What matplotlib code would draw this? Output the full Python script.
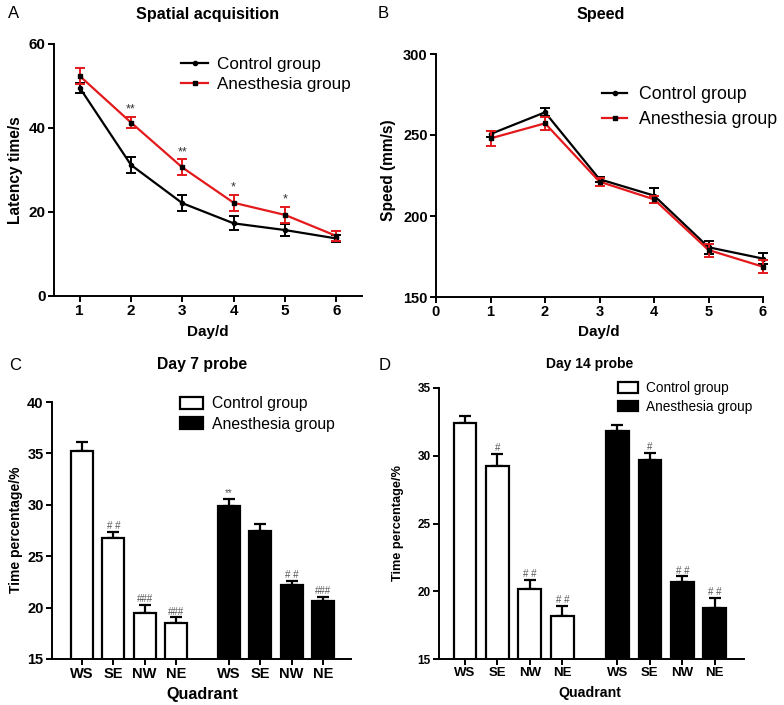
import matplotlib
matplotlib.use('Agg')
import matplotlib.pyplot as plt
from matplotlib.lines import Line2D
from matplotlib.patches import Patch
import numpy as np

plt.rcParams['font.family'] = ['Liberation Sans', 'DejaVu Sans']

# Panel A - spatial acquisition (latency, s)
days = [1, 2, 3, 4, 5, 6]
lat_ctrl = [49.6, 31.2, 22.1, 17.3, 15.7, 13.7]
lat_ctrl_err = [1.2, 1.9, 1.9, 1.7, 1.4, 0.9]
lat_anes = [52.4, 41.3, 30.6, 22.2, 19.3, 14.3]
lat_anes_err = [2.0, 1.4, 1.9, 1.9, 2.0, 1.2]
lat_marks = ['', '**', '**', '*', '*', '']

# Panel B - speed (mm/s)
spd_ctrl = [250.6, 264.0, 222.7, 212.6, 180.7, 173.7]
spd_ctrl_err = [2.0, 2.5, 1.5, 4.5, 4.0, 3.5]
spd_anes = [247.9, 257.2, 221.2, 210.3, 179.0, 168.7]
spd_anes_err = [4.5, 4.0, 2.5, 2.0, 4.0, 4.0]

# Panels C / D - probe tests (time percentage)
quadrants = ['WS', 'SE', 'NW', 'NE']
d7_ctrl = [35.2, 26.8, 19.5, 18.5]
d7_ctrl_err = [0.9, 0.55, 0.8, 0.55]
d7_anes = [29.85, 27.5, 22.15, 20.65]
d7_anes_err = [0.75, 0.6, 0.45, 0.4]
d7_ctrl_marks = ['', '# #', '###', '###']
d7_anes_marks = ['**', '', '# #', '###']

d14_ctrl = [32.4, 29.27, 20.17, 18.2]
d14_ctrl_err = [0.55, 0.86, 0.65, 0.7]
d14_anes = [31.8, 29.7, 20.66, 18.76]
d14_anes_err = [0.5, 0.5, 0.45, 0.75]
d14_ctrl_marks = ['', '#', '# #', '# #']
d14_anes_marks = ['', '#', '# #', '# #']

W, H = 784, 705
fig = plt.figure(figsize=(W / 100, H / 100), dpi=100)


def rect(l, t, r, b):
    return [l / W, 1 - b / H, (r - l) / W, (b - t) / H]


def style(ax, fs, bold=True):
    for s in ['top', 'right']:
        ax.spines[s].set_visible(False)
    for s in ['left', 'bottom']:
        ax.spines[s].set_linewidth(1.4)
    ax.tick_params(width=1.4, length=4, labelsize=fs, pad=2)
    if bold:
        for lab in ax.get_xticklabels() + ax.get_yticklabels():
            lab.set_fontweight('bold')


# ---- A ----
axA = fig.add_axes(rect(54, 44, 362, 296))
axA.errorbar(days, lat_ctrl, yerr=lat_ctrl_err, color='black', lw=1.6, marker='o', ms=3,
             capsize=3.5, capthick=1.4, elinewidth=1.4, zorder=3, clip_on=False)
axA.errorbar(days, lat_anes, yerr=lat_anes_err, color='#e3191c', ecolor='#e3191c', lw=1.6,
             marker='s', ms=3.5, mfc='black', mec='black', capsize=3.5, capthick=1.4,
             elinewidth=1.4, zorder=4, clip_on=False)
for d, v, e, m in zip(days, lat_anes, lat_anes_err, lat_marks):
    if m:
        axA.annotate(m, (d, v + e), xytext=(0, 1), textcoords='offset points',
                     ha='center', va='bottom', fontsize=9, color='#333333')
axA.set_xlim(0.5, 6.5)
axA.set_ylim(0, 60)
axA.set_xticks(days)
axA.set_yticks([0, 20, 40, 60])
style(axA, 11)
hA = [Line2D([], [], color='black', lw=1.6, marker='o', ms=3),
      Line2D([], [], color='#e3191c', lw=1.6, marker='s', ms=3.5, mfc='black', mec='black')]
axA.legend(hA, ['Control group', 'Anesthesia group'], loc='upper left',
           bbox_to_anchor=(0.412, 0.95), frameon=False, fontsize=12.3, borderpad=0,
           borderaxespad=0, handlelength=1.6, handletextpad=0.5, labelspacing=0.3)

# ---- B ----
axB = fig.add_axes(rect(436, 54, 763, 297))
axB.errorbar(days, spd_ctrl, yerr=spd_ctrl_err, color='black', lw=1.6, marker='o', ms=3,
             capsize=3.5, capthick=1.4, elinewidth=1.4, zorder=3, clip_on=False)
axB.errorbar(days, spd_anes, yerr=spd_anes_err, color='#e3191c', ecolor='#e3191c', lw=1.6,
             marker='s', ms=3.5, mfc='black', mec='black', capsize=3.5, capthick=1.4,
             elinewidth=1.4, zorder=4, clip_on=False)
axB.set_xlim(0, 6)
axB.set_ylim(150, 300)
axB.set_xticks(range(0, 7))
axB.set_yticks([150, 200, 250, 300])
style(axB, 10.5)
axB.legend(hA, ['Control group', 'Anesthesia group'], loc='upper left',
           bbox_to_anchor=(0.508, 0.868), frameon=False, fontsize=12.8, borderpad=0,
           borderaxespad=0, handlelength=1.4, handletextpad=0.7, labelspacing=0.45)


# ---- C / D bars ----
def probe(ax, ctrl, ctrl_err, anes, anes_err, cmarks, amarks, fs_tick, fs_leg, ylim, xlim,
          leg_anchor, cap):
    xc = np.arange(4)
    xa = xc + 4.7
    ax.bar(xc, ctrl, width=0.7, color='white', edgecolor='black', lw=1.6, zorder=2)
    ax.bar(xa, anes, width=0.7, color='black', edgecolor='black', lw=1.6, zorder=2)
    ax.errorbar(xc, ctrl, yerr=[np.zeros(4), ctrl_err], fmt='none', ecolor='black',
                elinewidth=1.6, capsize=cap, capthick=1.6, zorder=1)
    ax.errorbar(xa, anes, yerr=[np.zeros(4), anes_err], fmt='none', ecolor='black',
                elinewidth=1.6, capsize=cap, capthick=1.6, zorder=1)
    for xs, vals, errs, marks in [(xc, ctrl, ctrl_err, cmarks), (xa, anes, anes_err, amarks)]:
        for x, v, e, m in zip(xs, vals, errs, marks):
            if m:
                ax.annotate(m, (x, v + e), xytext=(0, 0.5), textcoords='offset points',
                            ha='center', va='bottom', fontsize=7, color='#555555')
    ax.set_xticks(list(xc) + list(xa))
    ax.set_xticklabels(quadrants * 2)
    ax.set_xlim(*xlim)
    ax.set_ylim(*ylim)
    ax.set_yticks(np.arange(ylim[0], ylim[1] + 1, 5))
    style(ax, fs_tick)
    hs = [Patch(facecolor='white', edgecolor='black', lw=1.6),
          Patch(facecolor='black', edgecolor='black', lw=1.6)]
    ax.legend(hs, ['Control group', 'Anesthesia group'], loc='upper left',
              bbox_to_anchor=leg_anchor, frameon=False, fontsize=fs_leg, borderpad=0,
              borderaxespad=0, handlelength=1.45, handleheight=0.8, handletextpad=0.6,
              labelspacing=0.35)


axC = fig.add_axes(rect(52, 402, 351, 659))
probe(axC, d7_ctrl, d7_ctrl_err, d7_anes, d7_anes_err, d7_ctrl_marks, d7_anes_marks,
      10.5, 11.3, (15, 40), (-0.96, 8.6), (0.428, 1.022), 4.5)

axD = fig.add_axes(rect(439, 388, 744, 659))
probe(axD, d14_ctrl, d14_ctrl_err, d14_anes, d14_anes_err, d14_ctrl_marks, d14_anes_marks,
      9.5, 9.8, (15, 35), (-0.8, 8.6), (0.587, 1.025), 4.5)
for lab in axD.get_yticklabels():
    lab.set_fontsize(8.5)

# ---- titles, labels, panel letters ----
def ftext(x, y, s, **kw):
    fig.text(x / W, 1 - y / H, s, ha='center', va='center', **kw)


ftext(208, 15, 'Spatial acquisition', fontsize=11.6, fontweight='bold')
ftext(601, 15, 'Speed', fontsize=11.6, fontweight='bold')
ftext(202, 365, 'Day 7 probe', fontsize=11.3, fontweight='bold')
ftext(590, 364, 'Day 14 probe', fontsize=10, fontweight='bold')

ftext(208, 332, 'Day/d', fontsize=11, fontweight='bold')
ftext(599, 332, 'Day/d', fontsize=11, fontweight='bold')
ftext(202, 695, 'Quadrant', fontsize=11.6, fontweight='bold')
ftext(590, 693, 'Quadrant', fontsize=10.2, fontweight='bold')

ftext(16, 170, 'Latency time/s', fontsize=11.2, fontweight='bold', rotation=90)
ftext(389, 170, 'Speed (mm/s)', fontsize=11.2, fontweight='bold', rotation=90)
ftext(16, 530, 'Time percentage/%', fontsize=10, fontweight='bold', rotation=90)
ftext(398, 523, 'Time percentage/%', fontsize=9.2, fontweight='bold', rotation=90)

ftext(14, 14, 'A', fontsize=12)
ftext(383, 14, 'B', fontsize=12)
ftext(15, 365, 'C', fontsize=12)
ftext(385, 365, 'D', fontsize=12)

fig.savefig('out.png', dpi=100)
